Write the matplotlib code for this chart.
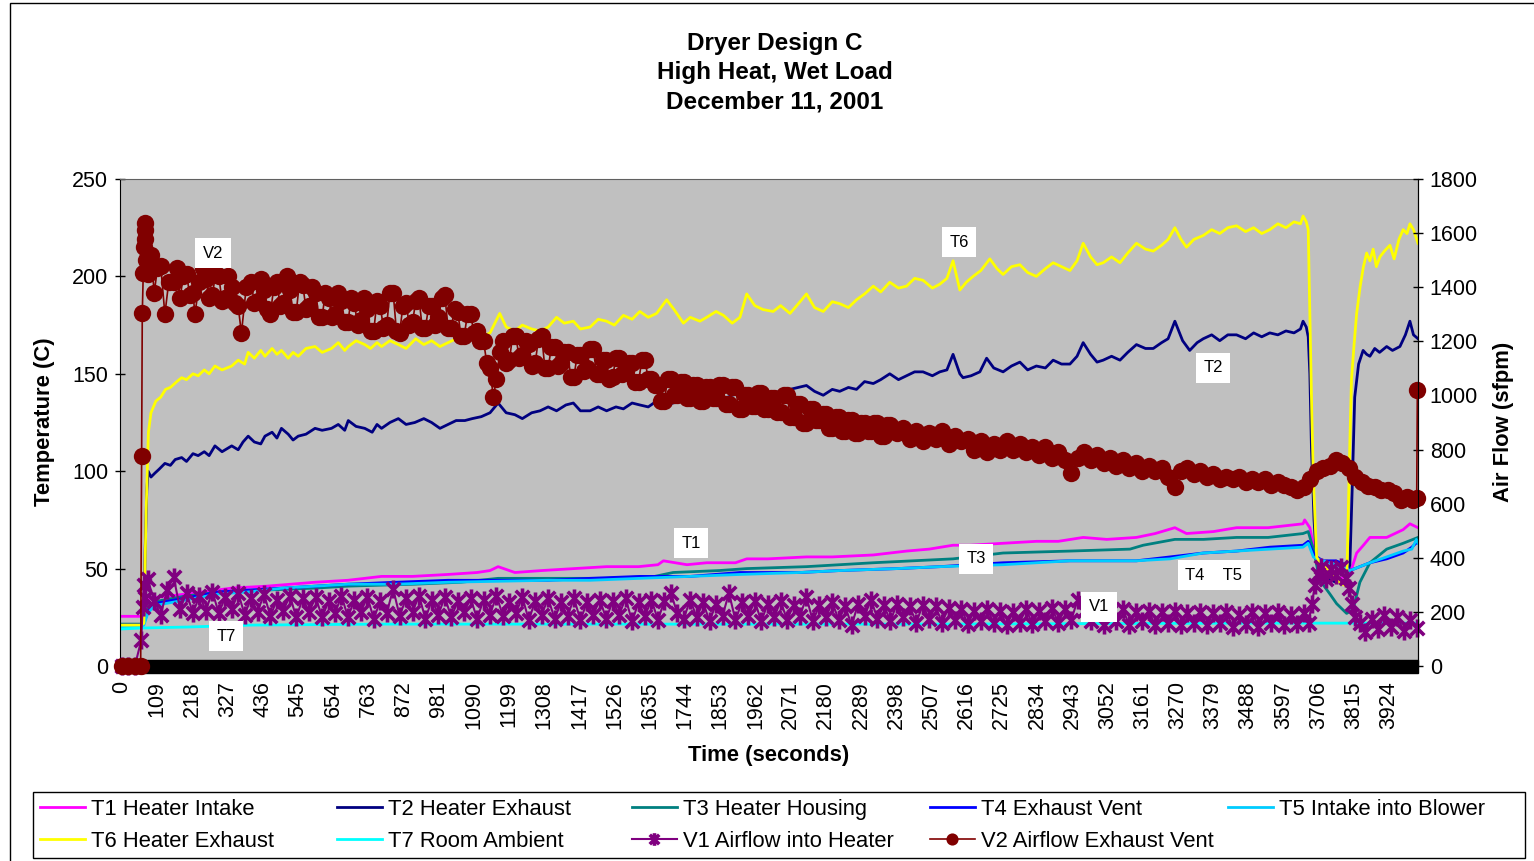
import numpy as np
import matplotlib
matplotlib.use("Agg")
import matplotlib.pyplot as plt
from matplotlib.patches import Rectangle
from matplotlib.path import Path

plt.rcParams['font.family'] = ['Liberation Sans', 'DejaVu Sans']

# (time s, value) samples
T1_pts = [(0, 25.5), (60, 25.5), (67, 26), (75, 33), (90, 35), (150, 36), (250, 38), (340, 40), (450, 41),
          (598, 43), (700, 44), (804, 46), (900, 46), (1010, 47), (1100, 48), (1140, 49), (1165, 51),
          (1217, 48), (1300, 49), (1400, 50), (1501, 51), (1600, 51), (1660, 52), (1677, 54), (1750, 52),
          (1811, 53), (1900, 53), (1935, 55), (2000, 55), (2120, 56), (2200, 56), (2327, 57), (2430, 59),
          (2500, 60), (2574, 62), (2626, 62), (2729, 63), (2832, 64), (2900, 64), (2977, 66), (3050, 65),
          (3142, 66), (3200, 68), (3261, 71), (3297, 68), (3380, 69), (3452, 71), (3550, 71), (3658, 73),
          (3663, 75), (3679, 71), (3690, 62), (3700, 54), (3721, 47), (3760, 44), (3803, 47), (3824, 58),
          (3845, 62), (3865, 66), (3917, 66), (3968, 70), (3989, 73), (4014, 71)]

T2_pts = [(0, 21), (60, 21), (68, 23), (72, 60), (77, 90), (81, 100), (90, 97), (102, 99), (115, 101),
          (133, 104), (150, 103), (165, 106), (185, 107), (200, 105), (220, 109), (236, 108), (255, 110),
          (270, 108), (288, 113), (310, 110), (340, 113), (360, 111), (375, 115), (391, 118), (410, 115),
          (430, 114), (443, 118), (465, 120), (480, 117), (494, 122), (515, 119), (530, 116), (546, 118),
          (570, 119), (598, 122), (620, 121), (649, 122), (670, 124), (690, 121), (701, 126), (725, 123),
          (752, 122), (775, 120), (790, 124), (804, 122), (830, 125), (856, 127), (880, 124), (907, 125),
          (935, 127), (959, 125), (985, 122), (1010, 124), (1035, 126), (1062, 126), (1085, 127), (1113, 128),
          (1140, 130), (1165, 135), (1190, 130), (1217, 129), (1240, 127), (1269, 130), (1295, 131),
          (1320, 133), (1346, 131), (1375, 134), (1398, 135), (1420, 131), (1450, 131), (1475, 133),
          (1501, 131), (1530, 133), (1553, 132), (1580, 135), (1604, 134), (1630, 133), (1656, 136),
          (1680, 134), (1707, 135), (1735, 137), (1760, 134), (1790, 137), (1811, 136), (1840, 138),
          (1863, 137), (1890, 139), (1914, 140), (1940, 138), (1965, 141), (1990, 139), (2017, 141),
          (2045, 140), (2069, 142), (2095, 143), (2120, 144), (2145, 141), (2172, 139), (2200, 142),
          (2223, 141), (2250, 143), (2275, 142), (2300, 146), (2327, 145), (2350, 147), (2378, 150),
          (2405, 147), (2430, 149), (2455, 151), (2481, 151), (2510, 149), (2533, 151), (2555, 152),
          (2574, 160), (2595, 150), (2605, 148), (2630, 149), (2657, 151), (2678, 158), (2700, 153),
          (2729, 151), (2755, 154), (2781, 156), (2805, 152), (2832, 154), (2860, 153), (2884, 157),
          (2910, 155), (2936, 155), (2958, 159), (2977, 166), (3000, 160), (3020, 156), (3039, 157),
          (3065, 159), (3091, 157), (3115, 161), (3142, 165), (3170, 163), (3194, 163), (3220, 166),
          (3240, 168), (3261, 177), (3285, 167), (3307, 162), (3330, 166), (3349, 168), (3375, 170),
          (3400, 167), (3425, 170), (3452, 170), (3480, 168), (3505, 171), (3530, 169), (3555, 171),
          (3580, 170), (3605, 172), (3630, 171), (3650, 173), (3658, 177), (3668, 174), (3674, 169),
          (3679, 150), (3684, 112), (3692, 75), (3700, 53), (3710, 48), (3730, 45), (3760, 43), (3790, 44),
          (3803, 52), (3810, 90), (3818, 138), (3830, 155), (3844, 162), (3855, 160), (3865, 159),
          (3880, 163), (3895, 161), (3917, 164), (3935, 162), (3958, 164), (3975, 170), (3989, 177),
          (4000, 170), (4014, 168)]

T3_pts = [(0, 21.5), (60, 21.5), (68, 22), (80, 30), (100, 33), (200, 36), (300, 38), (450, 39), (600, 40),
          (701, 41), (907, 42), (1050, 43), (1165, 45), (1320, 45), (1501, 45), (1650, 46), (1707, 48),
          (1850, 49), (1935, 50), (2120, 51), (2327, 53), (2450, 54), (2574, 55), (2729, 58), (2936, 59),
          (3122, 60), (3163, 62), (3261, 65), (3350, 65), (3452, 66), (3550, 66), (3658, 68), (3674, 69),
          (3690, 60), (3710, 44), (3741, 37), (3762, 32), (3793, 27), (3813, 29), (3834, 43), (3865, 53),
          (3917, 60), (3968, 63), (4014, 66)]

T4_pts = [(0, 21), (60, 21), (68, 22), (80, 28), (100, 32), (200, 35), (300, 38), (391, 39), (500, 40),
          (701, 42), (850, 43), (1010, 44), (1320, 44), (1450, 45), (1604, 46), (1760, 46), (1914, 48),
          (2100, 48), (2223, 49), (2400, 50), (2533, 51), (2729, 53), (2936, 54), (3142, 54), (3246, 56),
          (3349, 58), (3452, 59), (3555, 61), (3658, 62), (3674, 64), (3690, 58), (3700, 56), (3720, 54),
          (3760, 54), (3790, 52), (3803, 49), (3865, 53), (3917, 55), (3968, 58), (3995, 61), (4014, 64)]

T5_pts = [(0, 20), (60, 20), (68, 21), (80, 27), (100, 31), (200, 34), (300, 37), (391, 38), (500, 40),
          (701, 42), (850, 42), (1010, 43), (1320, 44), (1450, 44), (1604, 45), (1760, 46), (1914, 47),
          (2100, 48), (2223, 49), (2400, 50), (2533, 51), (2729, 52), (2936, 54), (3142, 54), (3246, 55),
          (3349, 58), (3452, 59), (3555, 60), (3658, 61), (3674, 63), (3690, 56), (3700, 55), (3720, 54),
          (3760, 52), (3790, 50), (3803, 49), (3865, 53), (3917, 56), (3968, 59), (3995, 60), (4009, 65),
          (4014, 63)]

T6_pts = [(0, 21), (60, 21), (68, 22), (75, 80), (82, 120), (90, 130), (105, 136), (120, 138), (135, 142),
          (150, 143), (170, 146), (185, 148), (200, 147), (220, 150), (236, 149), (255, 152), (270, 150),
          (288, 154), (310, 152), (340, 154), (360, 157), (380, 155), (391, 161), (410, 158), (430, 162),
          (443, 159), (465, 163), (480, 160), (494, 162), (515, 158), (530, 161), (546, 159), (570, 163),
          (598, 164), (620, 161), (649, 163), (670, 166), (690, 162), (701, 164), (725, 167), (752, 165),
          (770, 163), (790, 166), (804, 164), (830, 167), (856, 165), (880, 163), (910, 168), (935, 165),
          (959, 167), (985, 164), (1010, 166), (1035, 168), (1062, 166), (1085, 170), (1113, 169),
          (1140, 171), (1170, 181), (1190, 174), (1217, 172), (1240, 175), (1269, 173), (1295, 172),
          (1320, 174), (1346, 179), (1370, 176), (1398, 177), (1420, 173), (1450, 174), (1475, 178),
          (1501, 177), (1525, 175), (1553, 180), (1580, 178), (1604, 182), (1630, 179), (1656, 181),
          (1687, 188), (1710, 183), (1739, 176), (1760, 179), (1790, 177), (1811, 179), (1840, 182),
          (1863, 180), (1890, 176), (1914, 179), (1935, 191), (1960, 185), (1985, 183), (2017, 182),
          (2040, 185), (2069, 181), (2095, 186), (2120, 191), (2145, 184), (2172, 182), (2200, 187),
          (2223, 186), (2250, 184), (2275, 188), (2300, 191), (2327, 195), (2350, 192), (2378, 197),
          (2405, 194), (2430, 195), (2455, 199), (2481, 198), (2510, 194), (2533, 196), (2555, 199),
          (2574, 208), (2595, 193), (2615, 197), (2636, 200), (2660, 203), (2688, 209), (2710, 204),
          (2729, 201), (2755, 205), (2781, 206), (2805, 202), (2832, 200), (2860, 204), (2884, 207),
          (2910, 205), (2936, 203), (2958, 208), (2977, 217), (3000, 210), (3020, 206), (3039, 207),
          (3065, 210), (3091, 207), (3115, 212), (3142, 217), (3170, 214), (3194, 213), (3220, 216),
          (3240, 219), (3261, 225), (3280, 219), (3297, 215), (3320, 219), (3349, 221), (3375, 224),
          (3400, 222), (3425, 225), (3452, 226), (3480, 223), (3505, 225), (3530, 222), (3555, 224),
          (3580, 227), (3605, 225), (3630, 228), (3650, 227), (3658, 231), (3668, 228), (3674, 224),
          (3679, 181), (3685, 130), (3690, 96), (3700, 56), (3710, 53), (3721, 52), (3740, 48), (3762, 44),
          (3780, 42), (3793, 41), (3798, 78), (3803, 115), (3808, 147), (3816, 165), (3824, 181),
          (3835, 195), (3845, 205), (3855, 212), (3865, 208), (3875, 214), (3885, 205), (3896, 210),
          (3910, 213), (3927, 216), (3940, 209), (3955, 219), (3968, 224), (3980, 222), (3989, 227),
          (4000, 224), (4014, 217)]

T7_pts = [(0, 19), (60, 19.5), (200, 20), (400, 21), (800, 21.5), (1500, 21.5), (2500, 21.5), (3500, 22),
          (3700, 22), (3800, 22), (4014, 22)]

# air flow (sfpm), right axis
V1_pts = [(0, 0), (20, 0), (40, 0), (60, 96), (64, 219), (68, 300), (72, 250), (80, 320), (100, 240),
          (120, 190), (140, 280), (160, 330), (180, 210), (200, 270), (220, 195), (240, 260), (260, 205),
          (280, 275), (300, 195), (320, 255), (340, 210), (360, 270), (380, 190), (400, 250), (420, 200),
          (440, 265), (460, 185), (480, 245), (500, 205), (520, 260), (540, 180), (560, 250), (580, 200),
          (600, 255), (620, 180), (640, 240), (660, 195), (680, 260), (700, 180), (720, 245), (740, 200),
          (760, 255), (780, 175), (800, 240), (820, 195), (840, 285), (860, 185), (880, 250), (900, 200),
          (920, 260), (940, 175), (960, 245), (980, 190), (1000, 255), (1020, 180), (1040, 240), (1060, 200),
          (1080, 250), (1100, 175), (1120, 245), (1140, 190), (1160, 260), (1180, 185), (1200, 235),
          (1220, 195), (1240, 255), (1260, 170), (1280, 240), (1300, 190), (1320, 250), (1340, 175),
          (1360, 235), (1380, 185), (1400, 250), (1420, 170), (1440, 235), (1460, 190), (1480, 245),
          (1500, 175), (1520, 240), (1540, 190), (1560, 250), (1580, 165), (1600, 235), (1620, 185),
          (1640, 245), (1660, 170), (1680, 240), (1700, 270), (1720, 195), (1740, 175), (1760, 245),
          (1780, 180), (1800, 235), (1820, 165), (1840, 230), (1860, 185), (1880, 270), (1900, 170),
          (1920, 235), (1940, 185), (1960, 240), (1980, 165), (2000, 230), (2020, 180), (2040, 240),
          (2060, 170), (2080, 225), (2100, 185), (2120, 255), (2140, 165), (2160, 225), (2180, 180),
          (2200, 235), (2220, 170), (2240, 220), (2260, 150), (2280, 230), (2300, 185), (2320, 245),
          (2340, 175), (2360, 225), (2380, 165), (2400, 230), (2420, 180), (2440, 220), (2460, 160),
          (2480, 225), (2500, 175), (2520, 220), (2540, 160), (2560, 215), (2580, 170), (2600, 210),
          (2620, 155), (2640, 205), (2660, 165), (2680, 210), (2700, 160), (2720, 205), (2740, 150),
          (2760, 200), (2780, 160), (2800, 210), (2820, 155), (2840, 205), (2860, 165), (2880, 215),
          (2900, 160), (2920, 210), (2940, 170), (2960, 245), (2980, 205), (3000, 165), (3020, 205),
          (3040, 150), (3060, 200), (3080, 165), (3100, 210), (3120, 150), (3140, 200), (3160, 165),
          (3180, 205), (3200, 150), (3220, 200), (3240, 160), (3260, 205), (3280, 150), (3300, 195),
          (3320, 160), (3340, 200), (3360, 150), (3380, 195), (3400, 160), (3420, 200), (3440, 145),
          (3460, 190), (3480, 155), (3500, 200), (3520, 145), (3540, 195), (3560, 160), (3580, 200),
          (3600, 150), (3620, 190), (3640, 155), (3660, 195), (3675, 160), (3685, 230), (3695, 300),
          (3705, 340), (3715, 365), (3730, 320), (3745, 360), (3760, 335), (3775, 365), (3790, 325),
          (3800, 290), (3810, 230), (3820, 180), (3835, 160), (3850, 125), (3870, 175), (3890, 135),
          (3910, 190), (3930, 145), (3950, 180), (3970, 130), (3990, 170), (4010, 140)]

V2_pts = [(0, 0), (20, 0), (40, 0), (58, 0), (61, 776), (63, 1303), (66, 1451), (68, 1549), (70, 1580),
          (71, 1611), (72, 1636), (76, 1500), (80, 1450), (90, 1520), (100, 1380), (110, 1470), (120, 1480),
          (133, 1300), (145, 1420), (160, 1420), (170, 1470), (180, 1360), (190, 1440), (200, 1450),
          (210, 1370), (220, 1380), (226, 1300), (240, 1420), (250, 1470), (260, 1430), (270, 1360),
          (280, 1370), (290, 1450), (300, 1440), (310, 1350), (320, 1360), (330, 1440), (340, 1400),
          (350, 1340), (360, 1330), (370, 1230), (385, 1400), (400, 1420), (410, 1340), (420, 1350),
          (430, 1430), (440, 1390), (450, 1320), (460, 1300), (470, 1400), (480, 1420), (490, 1330),
          (500, 1340), (510, 1440), (520, 1390), (530, 1310), (540, 1310), (550, 1420), (560, 1410),
          (570, 1320), (580, 1330), (590, 1400), (600, 1380), (610, 1290), (620, 1290), (630, 1380),
          (640, 1360), (650, 1290), (660, 1300), (670, 1380), (680, 1350), (690, 1270), (700, 1270),
          (710, 1360), (720, 1340), (730, 1260), (740, 1280), (750, 1360), (760, 1320), (770, 1240),
          (780, 1240), (790, 1350), (800, 1330), (810, 1250), (820, 1260), (830, 1380), (840, 1380),
          (850, 1240), (860, 1230), (870, 1330), (880, 1340), (890, 1260), (900, 1270), (910, 1350),
          (920, 1360), (930, 1250), (940, 1250), (950, 1330), (960, 1330), (970, 1260), (980, 1290),
          (990, 1360), (1000, 1370), (1010, 1250), (1020, 1250), (1030, 1320), (1040, 1310), (1050, 1220),
          (1060, 1220), (1070, 1300), (1080, 1300), (1090, 1230), (1100, 1240), (1110, 1200), (1120, 1200),
          (1130, 1120), (1140, 1100), (1150, 994), (1160, 1060), (1170, 1160), (1180, 1200), (1190, 1120),
          (1200, 1130), (1210, 1220), (1220, 1220), (1230, 1140), (1240, 1150), (1250, 1200), (1260, 1190),
          (1270, 1110), (1280, 1120), (1290, 1210), (1300, 1220), (1310, 1100), (1320, 1100), (1330, 1180),
          (1340, 1180), (1350, 1110), (1360, 1120), (1370, 1160), (1380, 1160), (1390, 1070), (1400, 1070),
          (1410, 1150), (1420, 1150), (1430, 1090), (1440, 1100), (1450, 1170), (1460, 1170), (1470, 1080),
          (1480, 1080), (1490, 1130), (1500, 1130), (1510, 1060), (1520, 1070), (1530, 1140), (1540, 1140),
          (1550, 1080), (1560, 1090), (1570, 1120), (1580, 1120), (1590, 1050), (1600, 1050), (1610, 1130),
          (1620, 1130), (1630, 1060), (1640, 1060), (1650, 1040), (1660, 1040), (1670, 980), (1680, 980),
          (1690, 1060), (1700, 1060), (1710, 1000), (1720, 1000), (1730, 1050), (1740, 1050), (1750, 990),
          (1760, 990), (1770, 1040), (1780, 1040), (1790, 980), (1800, 980), (1810, 1030), (1820, 1030),
          (1830, 990), (1840, 990), (1850, 1040), (1860, 1040), (1870, 970), (1880, 970), (1890, 1030),
          (1900, 1030), (1910, 950), (1920, 950), (1930, 1000), (1940, 1000), (1950, 960), (1960, 960),
          (1970, 1010), (1980, 1010), (1990, 950), (2000, 950), (2010, 990), (2020, 990), (2030, 940),
          (2040, 940), (2050, 1000), (2060, 1000), (2070, 920), (2080, 920), (2090, 970), (2100, 970),
          (2110, 900), (2120, 900), (2130, 950), (2140, 950), (2150, 910), (2160, 910), (2170, 930),
          (2180, 930), (2190, 880), (2200, 880), (2210, 920), (2220, 920), (2230, 870), (2240, 870),
          (2250, 910), (2260, 910), (2270, 860), (2280, 860), (2290, 900), (2300, 900), (2310, 870),
          (2320, 870), (2330, 900), (2340, 900), (2350, 850), (2360, 850), (2370, 890), (2380, 890),
          (2400, 860), (2420, 880), (2440, 840), (2460, 870), (2480, 830), (2500, 860), (2520, 840),
          (2540, 870), (2560, 820), (2580, 850), (2600, 830), (2620, 840), (2640, 800), (2660, 830),
          (2680, 790), (2700, 820), (2720, 800), (2740, 830), (2760, 800), (2780, 820), (2800, 790),
          (2820, 810), (2840, 780), (2860, 810), (2880, 770), (2900, 790), (2920, 760), (2940, 712),
          (2960, 770), (2980, 790), (3000, 760), (3020, 780), (3040, 750), (3060, 770), (3080, 740),
          (3100, 760), (3120, 730), (3140, 750), (3160, 720), (3180, 740), (3200, 720), (3220, 730),
          (3240, 700), (3260, 662), (3280, 720), (3300, 730), (3320, 710), (3340, 720), (3360, 700),
          (3380, 710), (3400, 690), (3420, 700), (3440, 690), (3460, 700), (3480, 680), (3500, 690),
          (3520, 680), (3540, 690), (3560, 670), (3580, 680), (3600, 670), (3620, 660), (3640, 650),
          (3660, 662), (3680, 690), (3700, 720), (3720, 730), (3740, 740), (3760, 760), (3780, 750),
          (3800, 730), (3820, 700), (3840, 680), (3860, 665), (3880, 660), (3900, 650), (3920, 650),
          (3940, 640), (3960, 615), (3980, 625), (4000, 615), (4010, 620), (4012, 1020)]

temp_names = ["T1 Heater Intake", "T2 Heater Exhaust", "T3 Heater Housing", "T4 Exhaust Vent",
              "T5 Intake into Blower", "T6 Heater Exhaust", "T7 Room Ambient"]
temp_colors = ["#FF00FF", "#000080", "#008080", "#0000FF", "#00CCFF", "#FFFF00", "#00FFFF"]
temp_series = [T1_pts, T2_pts, T3_pts, T4_pts, T5_pts, T6_pts, T7_pts]

tick_secs = list(range(0, 3925, 109))

# in-plot data labels: (text, time, temperature)
point_labels = [("V2", 282, 212), ("T6", 2592, 217.5), ("T2", 3379, 153), ("T1", 1762, 63),
                ("T3", 2645, 55), ("T4    T5", 3382, 46.7), ("V1", 3026, 30.3), ("T7", 322, 15.4)]

# Excel-style asterisk: an X with a vertical bar
star = Path([(0, -1), (0, 1), (-0.75, -0.75), (0.75, 0.75), (-0.75, 0.75), (0.75, -0.75)],
            [Path.MOVETO, Path.LINETO, Path.MOVETO, Path.LINETO, Path.MOVETO, Path.LINETO])

fig = plt.figure(figsize=(15.34, 8.61), dpi=100)
ax = fig.add_axes([120 / 1534, 1 - 666 / 861, 1298 / 1534, 487 / 861])
ax2 = ax.twinx()
ax.set_facecolor('#C0C0C0')

handles = []
for name, col, pts in zip(temp_names, temp_colors, temp_series):
    t, v = zip(*pts)
    h, = ax.plot(t, v, color=col, lw=2.0, label=name)
    handles.append(h)

t, v = zip(*V1_pts)
hv1, = ax2.plot(t, v, color='#800080', lw=1.5, marker=star, markersize=13,
                markeredgewidth=2.6, label="V1 Airflow into Heater", clip_on=False)
t, v = zip(*V2_pts)
hv2, = ax2.plot(t, v, color='#800000', lw=1.2, marker='o', markersize=12.5,
                markeredgewidth=0, label="V2 Airflow Exhaust Vent", clip_on=False)

ax.set_xlim(-6, 4014)
ax.set_ylim(0, 250)
ax2.set_ylim(0, 1800)
ax.set_yticks(range(0, 251, 50))
ax2.set_yticks(range(0, 1801, 200))
ax.set_xticks(tick_secs)
ax.set_xticklabels([str(s) for s in tick_secs])

ax.tick_params(axis='x', length=0, pad=11, labelsize=15.5, labelrotation=90)
ax.tick_params(axis='y', direction='inout', length=7, width=1, pad=5, labelsize=15.5)
ax2.tick_params(axis='y', direction='inout', length=7, width=1, pad=5, labelsize=15.5)

for sp in ['left', 'right', 'bottom']:
    ax.spines[sp].set_color('black')
ax.spines['top'].set_color('#606060')
for sp in ['left', 'top', 'bottom']:
    ax2.spines[sp].set_visible(False)
ax2.spines['right'].set_color('black')

# dense category tick marks form a solid black strip along the time axis
ax.add_patch(Rectangle((0, -7 / 487), 1, 13 / 487, transform=ax.transAxes,
                       color='black', clip_on=False, zorder=2.5))

for txt, tx, ty in point_labels:
    ax2.text(tx, ty, txt, transform=ax.transData, fontsize=12, ha='center', va='center', zorder=6,
             bbox=dict(boxstyle='square,pad=0.45', fc='white', ec='none'))

fig.text(775 / 1534, 1 - 73 / 861, "Dryer Design C\nHigh Heat, Wet Load\nDecember 11, 2001",
         ha='center', va='center', fontsize=17.5, fontweight='bold', linespacing=1.36)
fig.text(769 / 1534, 1 - 755 / 861, "Time (seconds)", ha='center', va='center',
         fontsize=15.8, fontweight='bold')
fig.text(45 / 1534, 1 - 422 / 861, "Temperature (C)", ha='center', va='center',
         rotation=90, fontsize=15.8, fontweight='bold')
fig.text(1503 / 1534, 1 - 422 / 861, "Air Flow (sfpm)", ha='center', va='center',
         rotation=90, fontsize=15.8, fontweight='bold')

# legend: five columns laid out like the original
cols = [[handles[0], handles[5]], [handles[1], handles[6]], [handles[2], hv1], [handles[3], hv2], [handles[4]]]
col_x = [40, 337, 632, 930, 1228]
for hs, cx in zip(cols, col_x):
    fig.legend(handles=hs, labels=[h.get_label() for h in hs], loc='upper left',
               bbox_to_anchor=(cx / 1534, 1 - 799 / 861), frameon=False, fontsize=15.8,
               handlelength=2.05, handletextpad=0.27, borderpad=0, borderaxespad=0,
               labelspacing=0.48, markerscale=0.7)
fig.patches.append(Rectangle((33 / 1534, 1 - 858 / 861), 1492 / 1534, 66 / 861,
                             transform=fig.transFigure, fill=False, ec='black', lw=1))
fig.patches.append(Rectangle((10 / 1534, -0.01), 1.0, 1 - 3 / 861 + 0.01,
                             transform=fig.transFigure, fill=False, ec='black', lw=1))

fig.savefig("out.png", dpi=100)
